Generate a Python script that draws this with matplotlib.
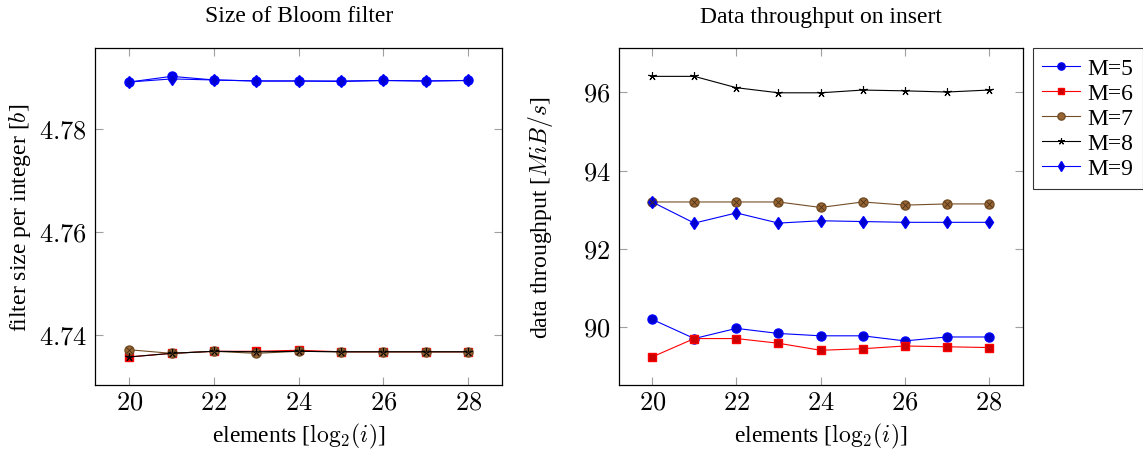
import matplotlib
matplotlib.use("Agg")
import matplotlib.pyplot as plt
from matplotlib.ticker import FixedLocator, FuncFormatter

plt.rcParams['font.family'] = ['Liberation Serif', 'DejaVu Serif']
plt.rcParams['mathtext.fontset'] = 'cm'
FS = 17

elements = [20, 21, 22, 23, 24, 25, 26, 27, 28]
labels = ["M=5", "M=6", "M=7", "M=8", "M=9"]

# filter size per integer [b]
size_m5 = [4.7892, 4.7903, 4.7896, 4.7894, 4.7894, 4.7893, 4.7895, 4.7894, 4.7895]
size_m6 = [4.7357, 4.7364, 4.7368, 4.7368, 4.7370, 4.7367, 4.7367, 4.7367, 4.7367]
size_m7 = [4.7371, 4.7364, 4.7368, 4.7364, 4.7368, 4.7367, 4.7367, 4.7367, 4.7367]
size_m8 = [4.7357, 4.7364, 4.7368, 4.7367, 4.7368, 4.7367, 4.7367, 4.7367, 4.7367]
size_m9 = [4.7892, 4.7898, 4.7896, 4.7894, 4.7894, 4.7894, 4.7895, 4.7894, 4.7895]

# data throughput [MiB/s]
thr_m5 = [90.20, 89.71, 89.97, 89.84, 89.78, 89.78, 89.65, 89.75, 89.75]
thr_m6 = [89.24, 89.71, 89.71, 89.59, 89.41, 89.45, 89.52, 89.50, 89.48]
thr_m7 = [93.20, 93.20, 93.20, 93.20, 93.06, 93.20, 93.12, 93.15, 93.15]
thr_m8 = [96.41, 96.41, 96.12, 95.99, 95.99, 96.06, 96.04, 96.01, 96.06]
thr_m9 = [93.20, 92.66, 92.92, 92.66, 92.72, 92.70, 92.68, 92.68, 92.68]

# pgfplots default cycle list look
styles = [
    dict(color='#0000FF', marker='o', mfc='#0000CC', mec='#0000FF', ms=6.5),
    dict(color='#FF0000', marker='s', mfc='#CC0000', mec='#FF0000', ms=6),
    dict(color='#734D26', marker='o', mfc='#996633', mec='#734D26', ms=6.5),
    dict(color='#000000', marker=(5, 2, 0), mfc='none', mec='#000000', ms=6, mew=0.8),
    dict(color='#0000FF', marker='d', mfc='#0000CC', mec='#0000FF', ms=6.5),
]

W, H = 1143, 452
fig = plt.figure(figsize=(W / 100, H / 100), dpi=100)
ax1 = fig.add_axes([95.3 / W, 1 - 386 / H, 406.7 / W, 336.7 / H])
ax2 = fig.add_axes([618.5 / W, 1 - 386 / H, 404.2 / W, 336.7 / H])
title_y = (386 - 17) / 336.7


def draw(ax, series, yticks, fmt):
    handles = []
    for ys, st, lab in zip(series, styles, labels):
        h, = ax.plot(elements, ys, lw=0.8, label=lab, **st)
        handles.append(h)
    # otimes cross on brown markers
    ax.plot(elements, series[2], ls='none', marker='x', ms=4, mew=0.6, color='#4a3018')
    ax.margins(x=0.1, y=0.1)
    ax.xaxis.set_major_locator(FixedLocator([20, 22, 24, 26, 28]))
    ax.yaxis.set_major_locator(FixedLocator(yticks))
    ax.xaxis.set_major_formatter(FuncFormatter(lambda v, p: '$%d$' % v))
    ax.yaxis.set_major_formatter(FuncFormatter(lambda v, p: fmt % v))
    ax.tick_params(direction='in', length=6, width=0.8, color='#a0a0a0',
                   top=True, right=True, labelsize=FS + 2)
    ax.tick_params(axis='y', pad=6)
    ax.tick_params(axis='x', pad=5)
    for s in ax.spines.values():
        s.set_linewidth(0.9)
    ax.set_xlabel(r'elements [$\mathrm{log}_2(i)$]', fontsize=FS, labelpad=5)
    return handles


draw(ax1, [size_m5, size_m6, size_m7, size_m8, size_m9], [4.74, 4.76, 4.78], '$%.2f$')
ax1.set_ylabel('filter size per integer [$b$]', fontsize=FS)
ax1.yaxis.set_label_coords(-0.153, 0.5)
ax1.set_title('Size of Bloom filter', fontsize=FS, y=title_y, va='center', pad=0)

hs = draw(ax2, [thr_m5, thr_m6, thr_m7, thr_m8, thr_m9], [90, 92, 94, 96], '$%d$')
ax2.set_ylabel('data throughput [$MiB/s$]', fontsize=FS)
ax2.yaxis.set_label_coords(-0.157, 0.5)
ax2.set_title('Data throughput on insert', fontsize=FS, y=title_y, va='center', pad=0)

leg = fig.legend(handles=hs, loc='upper left', bbox_to_anchor=(1033 / W, 1 - 49 / H),
                 fontsize=FS, frameon=True, fancybox=False, edgecolor='black',
                 labelspacing=0.15, handlelength=1.6, handletextpad=0.3,
                 borderpad=0.4, borderaxespad=0, markerscale=0.8)
leg.get_frame().set_linewidth(0.8)

fig.savefig('out.png', dpi=100)
